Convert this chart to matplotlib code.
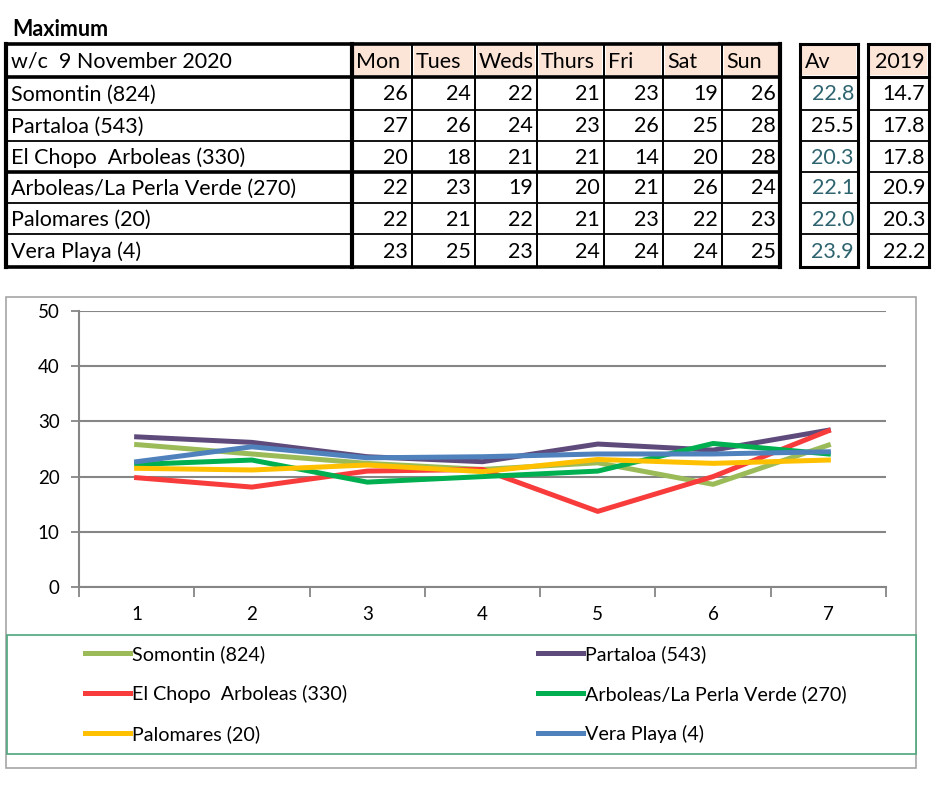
import matplotlib
matplotlib.use("Agg")
import matplotlib.pyplot as plt
from matplotlib.patches import Rectangle

plt.rcParams['font.family'] = ['Lato', 'DejaVu Sans']

# ---- data ----
stations = ["Somontin (824)", "Partaloa (543)", "El Chopo  Arboleas (330)",
            "Arboleas/La Perla Verde (270)", "Palomares (20)", "Vera Playa (4)"]
days = ["Mon", "Tues", "Weds", "Thurs", "Fri", "Sat", "Sun"]
day_numbers = [1, 2, 3, 4, 5, 6, 7]

# table values (rounded, as printed)
max_somontin = [26, 24, 22, 21, 23, 19, 26]
max_partaloa = [27, 26, 24, 23, 26, 25, 28]
max_elchopo = [20, 18, 21, 21, 14, 20, 28]
max_arboleas = [22, 23, 19, 20, 21, 26, 24]
max_palomares = [22, 21, 22, 21, 23, 22, 23]
max_vera = [23, 25, 23, 24, 24, 24, 25]
week_av = [22.8, 25.5, 20.3, 22.1, 22.0, 23.9]
year_2019 = [14.7, 17.8, 17.8, 20.9, 20.3, 22.2]

# chart values
line_somontin = [25.8, 24.1, 22.4, 21.3, 22.5, 18.6, 25.7]
line_partaloa = [27.2, 26.2, 23.6, 22.7, 25.9, 24.8, 28.4]
line_elchopo = [19.8, 18.1, 21.0, 21.3, 13.7, 20.0, 28.3]
line_arboleas = [22.2, 23.0, 19.0, 20.0, 21.0, 26.0, 24.1]
line_palomares = [21.5, 21.2, 22.1, 20.9, 23.1, 22.4, 23.0]
line_vera = [22.7, 25.4, 23.4, 23.6, 24.1, 24.1, 24.5]

table_rows = [max_somontin, max_partaloa, max_elchopo, max_arboleas, max_palomares, max_vera]
chart_lines = [line_somontin, line_partaloa, line_elchopo, line_arboleas, line_palomares, line_vera]
colors = ["#9bbb59", "#5f4b7b", "#f83c3c", "#00b050", "#ffc000", "#4f81bd"]

peach = "#fce4d6"
av_color = "#2e6470"
grid_grey = "#868686"

fig = plt.figure(figsize=(9.52, 8), dpi=100)

# ---- table, drawn in pixel space ----
tab = fig.add_axes([0, 0, 1, 1])
tab.set_xlim(0, 952)
tab.set_ylim(800, 0)
tab.axis("off")

col_edges = [6, 352, 412, 475, 537, 604, 663, 722, 780]
row_edges = [44, 77, 110, 141, 172, 203, 234, 267]
av_box = (800, 858)
yr_box = (868, 929)
fs = 15.5

tab.text(12, 29, "Maximum", fontsize=15.5, fontweight="bold", va="center")

# header fills
for x0, x1 in list(zip(col_edges[1:-1], col_edges[2:])) + [av_box, yr_box]:
    tab.add_patch(Rectangle((x0 + 2, row_edges[0] + 2), x1 - x0 - 4, row_edges[1] - row_edges[0] - 4,
                            facecolor=peach, edgecolor="none"))

# horizontal lines
for i, y in enumerate(row_edges):
    thick = i in (0, 1, 4, 7)
    lw = 2.6 if thick else 1.3
    tab.plot([col_edges[0], col_edges[-1]], [y, y], color="black", lw=lw, solid_capstyle="projecting")
    for x0, x1 in (av_box, yr_box):
        tab.plot([x0, x1], [y, y], color="black", lw=2.2 if i in (0, 1, 7) else 1.3,
                 solid_capstyle="projecting")

# vertical lines
for i, x in enumerate(col_edges):
    lw = 3.0 if i in (0, 1, len(col_edges) - 1) else 1.4
    tab.plot([x, x], [row_edges[0], row_edges[-1]], color="black", lw=lw, solid_capstyle="projecting")
for x0, x1 in (av_box, yr_box):
    for x in (x0, x1):
        tab.plot([x, x], [row_edges[0], row_edges[-1]], color="black", lw=2.2, solid_capstyle="projecting")

# header text
hy = (row_edges[0] + row_edges[1]) / 2 + 1
tab.text(col_edges[0] + 5, hy, "w/c  9 November 2020", fontsize=fs, va="center")
for j, d in enumerate(days):
    tab.text(col_edges[j + 1] + 4, hy, d, fontsize=fs, va="center")
tab.text(av_box[0] + 5, hy, "Av", fontsize=fs, va="center")
tab.text(yr_box[1] - 4, hy, "2019", fontsize=fs, va="center", ha="right")

# body text
for r, name in enumerate(stations):
    cy = (row_edges[r + 1] + row_edges[r + 2]) / 2 + 1
    tab.text(col_edges[0] + 5, cy, name, fontsize=fs, va="center")
    for j, v in enumerate(table_rows[r]):
        tab.text(col_edges[j + 2] - 4, cy, str(v), fontsize=fs, va="center", ha="right")
    c = "black" if r == 1 else av_color
    tab.text(av_box[1] - 4, cy, f"{week_av[r]:.1f}", fontsize=fs, va="center", ha="right", color=c)
    tab.text(yr_box[1] - 4, cy, f"{year_2019[r]:.1f}", fontsize=fs, va="center", ha="right")

# chart frame and legend frame
tab.add_patch(Rectangle((6, 297), 910, 471, facecolor="none", edgecolor="#a6a6a6", lw=1.2))
tab.add_patch(Rectangle((7, 635), 909, 119, facecolor="white", edgecolor="#4ea67c", lw=1.2))

# ---- line chart ----
ax = fig.add_axes([79 / 952, 1 - 587 / 800, (886 - 79) / 952, (587 - 311) / 800])
handles = []
for name, vals, col in zip(stations, chart_lines, colors):
    h, = ax.plot(day_numbers, vals, color=col, lw=3.6, label=name)
    handles.append(h)

ax.set_xlim(0.5, 7.5)
ax.set_ylim(0, 50)
ax.set_yticks([0, 10, 20, 30, 40, 50])
ax.set_xticks(day_numbers)
ax.set_xticks([x + 0.5 for x in range(0, 8)], minor=True)
ax.tick_params(axis="x", which="major", length=0, pad=14, labelsize=13.5)
ax.tick_params(axis="x", which="minor", length=7, width=1.3, color=grid_grey, direction="out")
ax.tick_params(axis="y", length=6, width=1.3, color=grid_grey, pad=8, labelsize=13.5)
ax.yaxis.grid(True, color=grid_grey, lw=1.5)
ax.set_axisbelow(True)
for s in ("top", "right"):
    ax.spines[s].set_visible(False)
for s in ("left", "bottom"):
    ax.spines[s].set_color(grid_grey)
    ax.spines[s].set_linewidth(1.5)
ax.patch.set_alpha(0)

leg_kw = dict(loc="upper left", frameon=False, fontsize=14.2, handlelength=2.3,
              handletextpad=0.1, labelspacing=1.12, borderpad=0, borderaxespad=0)
fig.legend(handles[0::2], stations[0::2], bbox_to_anchor=(85 / 952, 1 - 645 / 800), **leg_kw)
fig.legend(handles[1::2], stations[1::2], bbox_to_anchor=(538 / 952, 1 - 645 / 800), **leg_kw)

fig.savefig("out.png", dpi=100)
